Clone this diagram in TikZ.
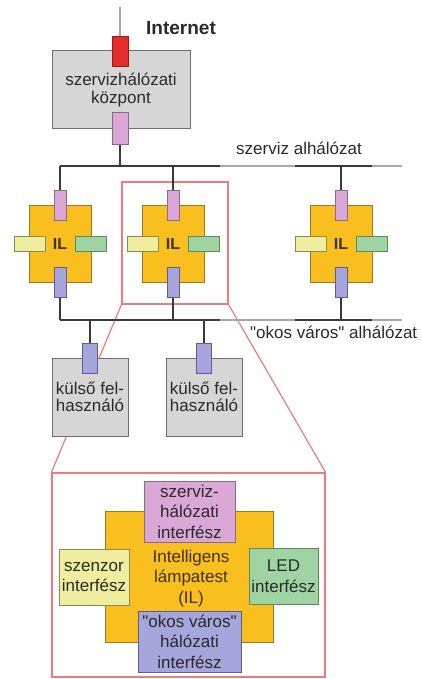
\documentclass[tikz,border=0pt]{standalone}
\usepackage{fontspec}
\setmainfont{Liberation Sans}[Ligatures=TeXOff]
\definecolor{redF}{HTML}{E52B2B}
\definecolor{redD}{HTML}{A01818}
\definecolor{grayF}{HTML}{D6D6D6}
\definecolor{grayD}{HTML}{6E6E6E}
\definecolor{pkF}{HTML}{D9A8D6}
\definecolor{pkD}{HTML}{8A6A88}
\definecolor{orF}{HTML}{F9BF1F}
\definecolor{orD}{HTML}{9A7A20}
\definecolor{ylF}{HTML}{EEEE9E}
\definecolor{ylD}{HTML}{8A8A50}
\definecolor{gnF}{HTML}{9FD4A2}
\definecolor{gnD}{HTML}{5A8A5E}
\definecolor{blF}{HTML}{A6A6DC}
\definecolor{blD}{HTML}{5E5E8E}
\definecolor{zoomC}{HTML}{EE7A7A}
\definecolor{wireC}{HTML}{3A3A3A}
\definecolor{faintC}{HTML}{A8A8A8}
\definecolor{txtC}{HTML}{2A2A2A}
\definecolor{ilT}{HTML}{3D3200}
\usetikzlibrary{backgrounds}
\tikzset{
  txt/.style={font=\fontsize{17}{18}\selectfont, text=txtC},
  bigtxt/.style={font=\fontsize{17}{20.5}\selectfont, text=txtC, align=center},
  wire/.style={draw=wireC, line width=2pt},
  faint/.style={draw=faintC, line width=1.5pt},
  zoomline/.style={draw=zoomC, line width=1.2pt},
  base/.style={inner sep=0pt, line width=1pt, align=center},
  gbox/.style={base, draw=grayD, fill=grayF, txt},
  redbox/.style={base, draw=redD, fill=redF},
  pkbox/.style={base, draw=pkD, fill=pkF},
  orbox/.style={base, draw=orD, fill=orF},
  ylbox/.style={base, draw=ylD, fill=ylF},
  gnbox/.style={base, draw=gnD, fill=gnF},
  blbox/.style={base, draw=blD, fill=blF},
  vsmall/.style={minimum width=12pt, minimum height=30pt},
  hsmall/.style={minimum width=31pt, minimum height=15pt},
  ilbox/.style={orbox, minimum width=62pt, minimum height=77pt,
    font=\bfseries\fontsize{16}{16}\selectfont, text=ilT},
}
\begin{document}
\begin{tikzpicture}[x=1pt,y=-1pt]
\useasboundingbox (0,0) rectangle (422,679);

% --- service centre ---
\node[gbox, minimum width=138pt, minimum height=78pt] (cbox) at (121,90) {szervizhálózati\\[-0.5pt]központ};
\node[redbox, minimum width=16pt, minimum height=30pt] (cred) at (120,52) {};
\node[pkbox, minimum width=16pt, minimum height=32pt] (cpk) at (120,129) {};
\coordinate (net) at (120,7);
\node[txt, anchor=west, font=\bfseries\fontsize{19}{20}\selectfont, inner sep=0] (inet) at (146,28) {Internet};
\node[txt, anchor=west, inner sep=0] (slbl) at (236,148) {szerviz alhálózat};
\node[txt, anchor=west, inner sep=0] (olbl) at (250,332) {"okos város" alhálózat};

% --- bus coordinates ---
\coordinate (topL) at (60,166);
\coordinate (topA) at (220,166);
\coordinate (topB) at (295,166);
\coordinate (topC) at (372,166);
\coordinate (topR) at (402,166);
\coordinate (botL) at (60,320);
\coordinate (botA) at (220,320);
\coordinate (botB) at (295,320);
\coordinate (botC) at (372,320);
\coordinate (botR) at (402,320);

% --- lamp units ---
\foreach \i/\cx in {1/60,2/173,3/341}{
  \node[ilbox] (il\i) at (\cx,243.5) {IL};
  \node[pkbox, vsmall] (p\i) at (\cx,205) {};
  \node[blbox, vsmall] (b\i) at (\cx,282) {};
  \node[ylbox, hsmall] (y\i) at (\cx-30.5,243.5) {};
  \node[gnbox, hsmall] (g\i) at (\cx+30.5,243.5) {};
}

% --- external users ---
\node[gbox, minimum width=76pt, minimum height=78pt] (u1) at (90,397) {külső fel-\\[-1pt]használó};
\node[gbox, minimum width=76pt, minimum height=78pt] (u2) at (204,397) {külső fel-\\[-1pt]használó};
\node[blbox, minimum width=15pt, minimum height=30pt] (ub1) at (90,358) {};
\node[blbox, minimum width=15pt, minimum height=30pt] (ub2) at (204,358) {};

% --- detail view ---
\node[draw=zoomC, line width=1.2pt, minimum width=273pt, minimum height=204pt, inner sep=0] (big) at (188.5,575) {};
\node[orbox, minimum width=168pt, minimum height=131pt] (bor) at (189,576.5) {};
\node[bigtxt, text=ilT, inner sep=0] (bortxt) at (191,578.5) {Intelligens\\lámpatest\\(IL)};
\node[pkbox, bigtxt, minimum width=91pt, minimum height=61pt] (bpk) at (189.5,511.5) {szerviz-\\hálózati\\interfész};
\node[ylbox, bigtxt, minimum width=70pt, minimum height=56pt] (byl) at (94,577) {szenzor\\interfész};
\node[gnbox, bigtxt, minimum width=69pt, minimum height=56pt] (bgn) at (283.5,576) {LED\\interfész};
\node[blbox, bigtxt, minimum width=103pt, minimum height=61pt] (bbl) at (189.5,641.5) {"okos város"\\hálózati\\interfész};

\begin{scope}[on background layer]
  \node[draw=zoomC, line width=1.2pt, minimum width=106pt, minimum height=122pt, inner sep=0] (hi) at (175,243) {};
  \draw[zoomline] (hi.south west) -- (big.north west);
  \draw[zoomline] (hi.south east) -- (big.north east);
  \draw[faint, line width=1.3pt] (net) -- (cred.north);
  \draw[wire] (cpk.south) -- (cpk.south |- topL);
  \draw[wire] (topL) -- (topA);
  \draw[faint] (topA) -- (topB);
  \draw[wire] (topB) -- (topC);
  \draw[faint] (topC) -- (topR);
  \draw[wire] (botL) -- (botA);
  \draw[faint] (botA) -- (botB);
  \draw[wire] (botB) -- (botC);
  \draw[faint] (botC) -- (botR);
  \foreach \i in {1,2,3}{
    \draw[wire] (p\i.north) -- (p\i.north |- topL);
    \draw[wire] (b\i.south) -- (b\i.south |- botL);
  }
  \draw[wire] (ub1.north) -- (ub1.north |- botL);
  \draw[wire] (ub2.north) -- (ub2.north |- botL);
\end{scope}
\end{tikzpicture}
\end{document}
